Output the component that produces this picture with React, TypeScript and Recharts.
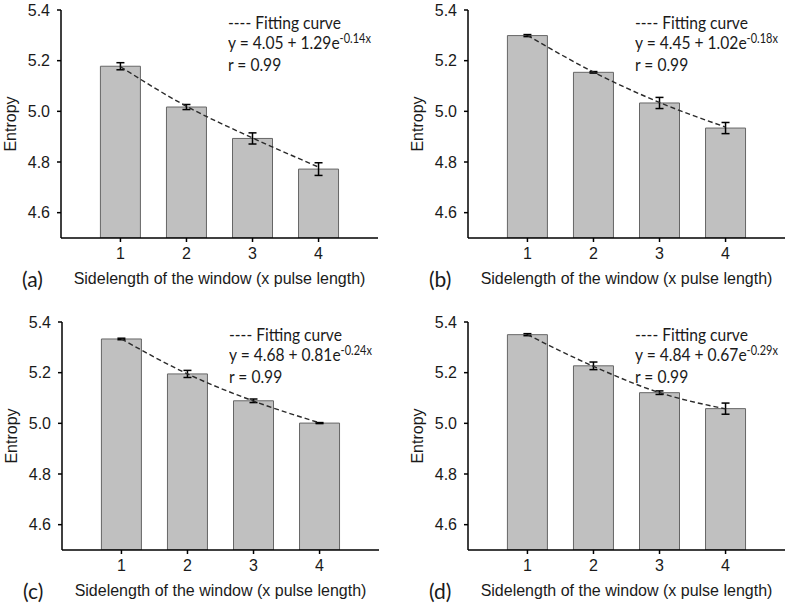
import React from 'react';
import { ComposedChart, Bar, Line, XAxis, YAxis, ErrorBar } from 'recharts';

// Sidelength of the window (x pulse length)
const windowSizes = [1, 2, 3, 4];

// Panel (a)
const entropyA = [5.178, 5.017, 4.893, 4.772];
const errorA = [0.014, 0.01, 0.022, 0.025];
const fitA = [5.176, 5.02, 4.895, 4.78];

// Panel (b)
const entropyB = [5.299, 5.154, 5.033, 4.934];
const errorB = [0.004, 0.003, 0.022, 0.022];
const fitB = [5.3, 5.155, 5.035, 4.938];

// Panel (c)
const entropyC = [5.333, 5.195, 5.089, 5.001];
const errorC = [0.003, 0.014, 0.007, 0.002];
const fitC = [5.333, 5.195, 5.088, 5.002];

// Panel (d)
const entropyD = [5.35, 5.227, 5.121, 5.058];
const errorD = [0.004, 0.015, 0.007, 0.022];
const fitD = [5.35, 5.225, 5.121, 5.057];

const xTicks = [1, 2, 3, 4];
const yTicks = [4.6, 4.8, 5.0, 5.2, 5.4];

const panelTags = ['(a)', '(b)', '(c)', '(d)'];
const intercepts = ['4.05', '4.45', '4.68', '4.84'];
const amplitudes = ['1.29', '1.02', '0.81', '0.67'];
const exponents = ['-0.14x', '-0.18x', '-0.24x', '-0.29x'];
const correlations = ['0.99', '0.99', '0.99', '0.99'];

const xTitle = 'Sidelength of the window (x pulse length)';
const yTitle = 'Entropy';

const build = (e: number[], er: number[], f: number[]) =>
  windowSizes.map((x, i) => ({ x, entropy: e[i], err: er[i], fit: f[i] }));

const datasets = [
  build(entropyA, errorA, fitA),
  build(entropyB, errorB, fitB),
  build(entropyC, errorC, fitC),
  build(entropyD, errorD, fitD),
];

const panelPos = [
  { left: 0, top: 0 },
  { left: 407, top: 0 },
  { left: 1, top: 312 },
  { left: 407, top: 312 },
];

const ARIAL = '"Liberation Sans", Arial, sans-serif';
const CAL = 'Lato, "Open Sans", sans-serif';
const TXT = '#1a1a1a';

function Panel({ idx }: { idx: number }) {
  const { left, top } = panelPos[idx];
  return (
    <div style={{ position: 'absolute', left, top, width: 380, height: 300 }}>
      <ComposedChart
        width={380}
        height={300}
        data={datasets[idx]}
        margin={{ top: 10, right: 2, bottom: 0, left: 0 }}
      >
        <XAxis
          dataKey="x"
          type="number"
          domain={[0.1, 4.9]}
          ticks={xTicks}
          allowDataOverflow
          height={62}
          tickSize={4}
          tickMargin={6}
          axisLine={{ stroke: '#000', strokeWidth: 1.5 }}
          tickLine={{ stroke: '#000', strokeWidth: 1.5 }}
          tick={{ fill: TXT, fontSize: 16, fontFamily: ARIAL }}
          label={{
            value: xTitle,
            position: 'insideBottom',
            offset: 16,
            fill: TXT,
            fontSize: 16,
            fontFamily: ARIAL,
          }}
        />
        <YAxis
          type="number"
          domain={[4.5, 5.4]}
          ticks={yTicks}
          allowDataOverflow
          tickFormatter={(v: number) => v.toFixed(1)}
          width={61}
          tickSize={4}
          tickMargin={7}
          axisLine={{ stroke: '#000', strokeWidth: 1.5 }}
          tickLine={{ stroke: '#000', strokeWidth: 1.5 }}
          tick={{ fill: TXT, fontSize: 16, fontFamily: ARIAL }}
          label={{
            value: yTitle,
            angle: -90,
            position: 'insideLeft',
            offset: 10,
            fill: TXT,
            fontSize: 16,
            fontFamily: ARIAL,
            style: { textAnchor: 'middle' },
          }}
        />
        <Bar
          dataKey="entropy"
          fill="#c0c0c0"
          stroke="#666"
          strokeWidth={1}
          barSize={40}
          isAnimationActive={false}
        >
          <ErrorBar
            dataKey="err"
            direction="y"
            width={4}
            stroke="#000"
            strokeWidth={1.5}
            isAnimationActive={false}
          />
        </Bar>
        <Line
          dataKey="fit"
          type="monotone"
          stroke="#2a2a2a"
          strokeWidth={1.4}
          strokeDasharray="5 3"
          dot={false}
          activeDot={false}
          isAnimationActive={false}
        />
      </ComposedChart>
      <div
        style={{
          position: 'absolute',
          left: 228,
          top: 13,
          fontFamily: CAL,
          fontSize: 15.6,
          lineHeight: '17.4px',
          color: TXT,
          whiteSpace: 'nowrap',
          transform: 'scaleY(1.15)',
          transformOrigin: 'top left',
        }}
      >
        <div>---- Fitting curve</div>
        <div>
          y = {intercepts[idx]} + {amplitudes[idx]}e
          <span style={{ fontSize: 11, position: 'relative', top: -5 }}>{exponents[idx]}</span>
        </div>
        <div>r = {correlations[idx]}</div>
      </div>
      <div
        style={{
          position: 'absolute',
          left: 22,
          top: 268,
          fontFamily: CAL,
          fontSize: 21,
          lineHeight: '22px',
          color: TXT,
        }}
      >
        {panelTags[idx]}
      </div>
    </div>
  );
}

export default function App() {
  return (
    <div
      style={{
        position: 'absolute',
        left: 0,
        top: 0,
        width: 787,
        height: 604,
        overflow: 'hidden',
        background: '#fff',
      }}
    >
      {[0, 1, 2, 3].map((i) => (
        <Panel key={i} idx={i} />
      ))}
    </div>
  );
}
